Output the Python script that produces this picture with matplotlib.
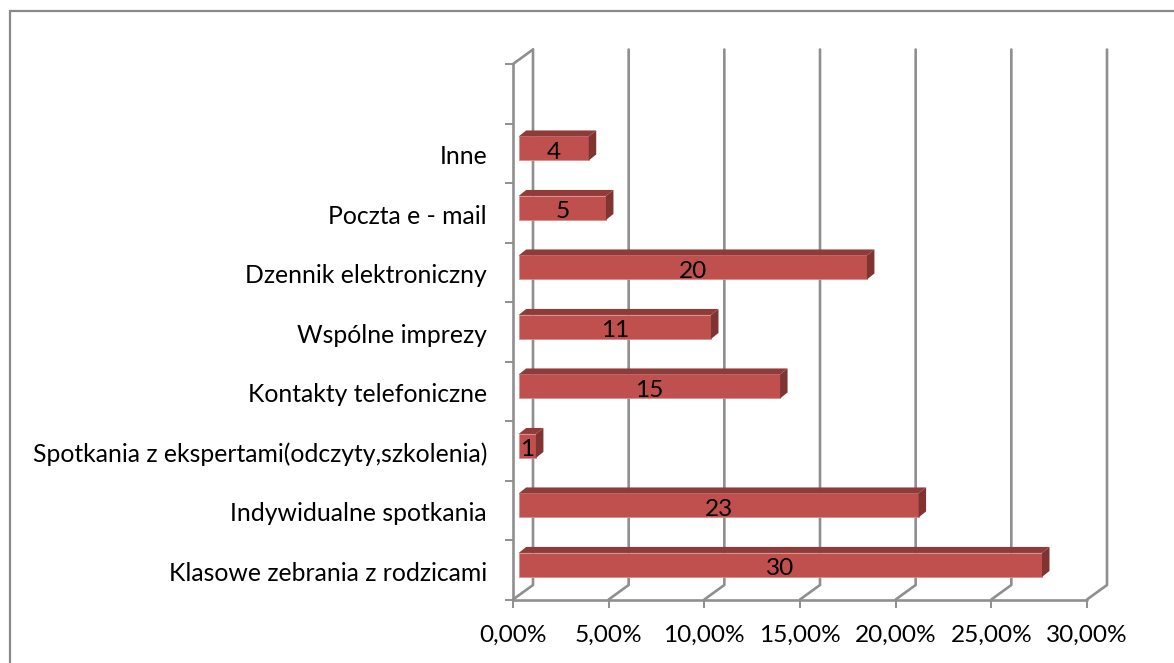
import matplotlib
matplotlib.use("Agg")
import matplotlib.pyplot as plt
from matplotlib.lines import Line2D

categories = ["Klasowe zebrania z rodzicami", "Indywidualne spotkania",
              "Spotkania z ekspertami(odczyty,szkolenia)", "Kontakty telefoniczne",
              "Wspólne imprezy", "Dzennik elektroniczny", "Poczta e - mail", "Inne"]
percent = [27.35, 20.9, 0.9, 13.66, 10.05, 18.2, 4.56, 3.66]
counts = [30, 23, 1, 15, 11, 20, 5, 4]
xticks = [0, 5, 10, 15, 20, 25, 30]
xticklabels = ["0,00%", "5,00%", "10,00%", "15,00%", "20,00%", "25,00%", "30,00%"]

W, H = 1174, 663
L, R, T, B = 513, 1087, 64, 599.5
GRID = "#8f8f8f"
FONT = "Lato"
FS = 17.6

plt.rcParams["font.family"] = FONT
fig = plt.figure(figsize=(W / 100, H / 100), dpi=100, facecolor="white")
fig.add_artist(Line2D([10 / W, 10 / W, 1], [0, 1 - 11 / H, 1 - 11 / H], transform=fig.transFigure,
                      color="#898989", lw=1.6, solid_joinstyle="miter"))
ax = fig.add_axes([L / W, 1 - B / H, (R - L) / W, (B - T) / H])
ax.set_xlim(0, 30)
ax.set_ylim(0, 9)
ax.patch.set_alpha(0)

ux = (R - L) / 30   # px per x unit
uy = (B - T) / 9    # px per slot
dx, dy = 20 / ux, 14.5 / uy            # wall depth
bx, by = 7.5 / ux, 6 / uy              # bar depth
x0, h, sh = 5.7 / ux, 24 / uy, 4.8 / uy

# walls / grid
kw = dict(color=GRID, lw=1.9, clip_on=False, solid_capstyle="round", solid_joinstyle="round")
for t in xticks:
    ax.plot([t, t + dx, t + dx], [0, dy, 9 + dy], zorder=1, **kw)
ax.plot([0, dx], [9, 9 + dy], zorder=1, **kw)
ax.plot([0, 0], [0, 9], zorder=1, **kw)
ax.plot([0, 30], [0, 0], zorder=1, **kw)

# bars
y = [i + 0.5 + sh for i in range(len(percent))]
ax.barh(y, percent, height=h, left=x0, color="#C0504D", edgecolor="#D98F8C", lw=0.6, zorder=3)
for yi, p, n in zip(y, percent, counts):
    x1 = x0 + p
    ax.fill([x0, x1, x1 + bx, x0 + bx], [yi + h / 2, yi + h / 2, yi + h / 2 + by, yi + h / 2 + by],
            color="#8F3B39", zorder=3, lw=0)
    ax.fill([x1, x1 + bx, x1 + bx, x1], [yi - h / 2, yi - h / 2 + by, yi + h / 2 + by, yi + h / 2],
            color="#7F3432", zorder=3, lw=0)
    ax.text(x0 + p / 2, yi - 4 / uy, str(n), ha="center", va="center", fontsize=FS, color="black", zorder=4)

for s in ax.spines.values():
    s.set_visible(False)
ax.set_xticks(xticks)
ax.set_xticklabels(xticklabels, fontsize=FS)
ax.set_yticks(range(10))
ax.set_yticklabels([])
ax.tick_params(axis="both", length=5.6, width=1.4, color=GRID)
ax.tick_params(axis="x", pad=13)
for i, c in enumerate(categories):
    ax.annotate(c, (0, i + 0.5), xytext=(-26 * 0.72, -2.4), textcoords="offset points",
                ha="right", va="center", fontsize=FS * 1.012, color="black")

fig.savefig("out.png", dpi=100)
